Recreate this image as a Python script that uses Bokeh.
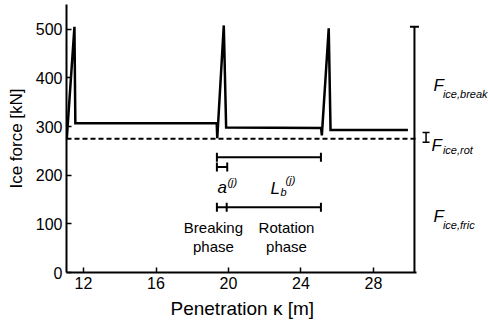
import math
from bokeh.plotting import figure
from bokeh.models import Range1d, Title, FixedTicker
from bokeh.core.properties import value
from bokeh.embed import file_html
from bokeh.resources import INLINE

# ---- data ----
kappa = [11.08, 11.50, 11.55, 19.35, 19.38, 19.74, 19.87, 25.11, 25.15, 25.53, 25.63, 29.90]
force = [276, 505, 307, 307, 276, 508, 298, 297, 282, 502, 293, 293]
fric_level = 275          # F_ice,fric (dashed)
break_top = 505           # top of F_ice,break bar
rot_bar = [268, 288]      # small I-bar F_ice,rot
kappa_axis = [11.062, 30.35]
x_view = [11.062, 34.345]
y_view = [0, 551]
xticks = [12, 16, 20, 24, 28]
yticks = [0, 100, 200, 300, 400, 500]

# interval bars: (start, end, level)
bar_Lb = (19.36, 25.1, 237)
bar_a = (19.36, 19.93, 217)
bar_phase = (19.36, 25.1, 134)
phase_split = 19.90
bar_break_x = 30.26
bar_rot_x = 30.9

FONT = value("Liberation Sans")

p = figure(width=488, height=325, output_backend="svg", toolbar_location=None,
           x_range=Range1d(*x_view), y_range=Range1d(*y_view),
           min_border_left=66, min_border_right=0, min_border_top=4, min_border_bottom=53)
p.outline_line_color = None
p.grid.visible = False
p.background_fill_color = "white"
p.border_fill_color = "white"

for ax in (p.xaxis[0], p.yaxis[0]):
    ax.axis_line_width = 2
    ax.axis_line_color = "black"
    ax.major_tick_in = 5
    ax.major_tick_out = 0
    ax.major_tick_line_width = 1.5
    ax.major_tick_line_color = "black"
    ax.minor_tick_line_color = None
    ax.major_label_text_font = "Liberation Sans"
    ax.major_label_text_font_size = "16px"
    ax.major_label_text_color = "black"
    ax.major_label_standoff = 4

p.xaxis.ticker = FixedTicker(ticks=xticks)
p.yaxis.ticker = FixedTicker(ticks=yticks)
p.xaxis.bounds = tuple(kappa_axis)
p.yaxis.axis_label = "Ice force [kN]"
p.yaxis.axis_label_text_font = "Liberation Sans"
p.yaxis.axis_label_text_font_style = "normal"
p.yaxis.axis_label_text_font_size = "17px"
p.yaxis.axis_label_text_color = "black"
p.yaxis.axis_label_standoff = 7

# main curve
p.line(kappa, force, line_color="black", line_width=2.5, line_join="miter")
# friction level dashed
p.line(kappa_axis, [fric_level, fric_level], line_color="black", line_width=2, line_dash="5 3")

# F_ice,break vertical bar
p.segment([bar_break_x], [0], [bar_break_x], [break_top], line_color="black", line_width=2)
p.scatter([bar_break_x], [break_top], marker="dash", size=9, line_color="black", line_width=2)
# F_ice,rot I-bar
p.segment([bar_rot_x], [rot_bar[0]], [bar_rot_x], [rot_bar[1]], line_color="black", line_width=1.5)
p.scatter([bar_rot_x, bar_rot_x], rot_bar, marker="dash", size=7, line_color="black", line_width=1.5)

# interval bars
for (x0, x1, lv) in (bar_Lb, bar_a, bar_phase):
    p.segment([x0], [lv], [x1], [lv], line_color="black", line_width=2)
    p.scatter([x0, x1], [lv, lv], marker="dash", angle=math.pi / 2, size=9,
              line_color="black", line_width=2)
p.scatter([phase_split], [bar_phase[2]], marker="dash", angle=math.pi / 2, size=9,
          line_color="black", line_width=2)

# italic labels: big letters
big_x = [31.31, 31.20, 31.31, 19.39, 22.32]
big_y = [385, 261, 115, 175, 173]
big_t = ["F", "F", "F", "a", "L"]
p.text(big_x, big_y, text=big_t, text_font=FONT, text_font_style="italic",
       text_font_size="17px", text_baseline="alphabetic", text_align="left", text_color="black")
# small sub/superscripts
sm_x = [31.83, 31.83, 31.83, 19.94, 22.87, 23.15]
sm_y = [367, 251, 97, 187, 165, 191]
sm_t = ["ice,break", "ice,rot", "ice,fric", "(j)", "b", "(j)"]
p.text(sm_x, sm_y, text=sm_t, text_font=FONT, text_font_style="italic",
       text_font_size="11px", text_baseline="alphabetic", text_align="left", text_color="black")

# phase labels
ph_x = [19.17, 19.17, 23.2, 23.2]
ph_y = [92, 53, 92, 53]
ph_t = ["Breaking", "phase", "Rotation", "phase"]
p.text(ph_x, ph_y, text=ph_t, text_font=FONT, text_font_size="15px",
       text_baseline="alphabetic", text_align="center", text_color="black")

# x-axis label centred on the axis extent (as a title below the axis)
p.add_layout(Title(text="Penetration κ [m]", align="left", offset=104,
                   text_font="Liberation Sans", text_font_size="19px",
                   text_font_style="normal", text_color="black", standoff=9), "below")

open("out.html", "w").write(file_html(p, INLINE))
